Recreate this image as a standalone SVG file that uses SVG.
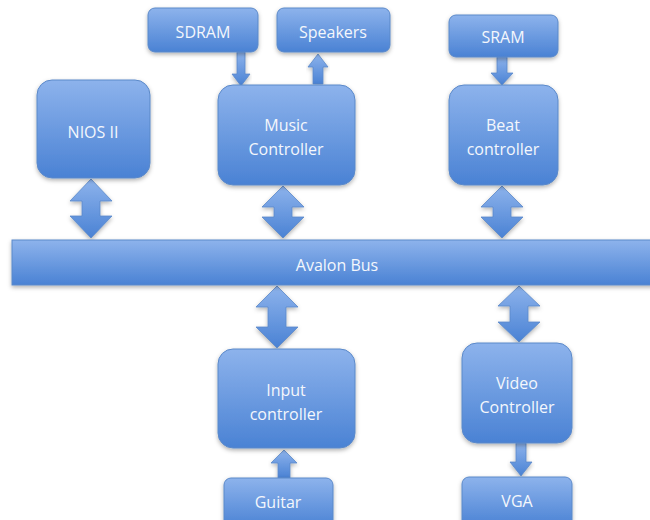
<svg xmlns="http://www.w3.org/2000/svg" width="650" height="520" viewBox="0 0 650 520">
<defs>
<linearGradient id="g" x1="0" y1="0" x2="0" y2="1">
<stop offset="0" stop-color="#8db3ec"/>
<stop offset="1" stop-color="#4a82d4"/>
</linearGradient>
<filter id="sh" x="-10%" y="-10%" width="120%" height="130%">
<feDropShadow dx="0" dy="2" stdDeviation="2" flood-color="#000" flood-opacity="0.3"/>
</filter>
<style>
.box{fill:url(#g);stroke:#5b89c9;stroke-width:1;filter:url(#sh)}
.arr{fill:url(#g);stroke:#5b89c9;stroke-width:0.8;filter:url(#sh)}
text{font-family:"Open Sans","Liberation Sans",sans-serif;font-size:16px;fill:#f4f7fc;text-anchor:middle}
</style>
</defs>
<rect width="650" height="520" fill="#ffffff"/>
<g id="connectors">
<path class="arr" d="M91,179 L112,201 L100,201 L100,216 L112,216 L91,238 L70,216 L82,216 L82,201 L70,201 Z"/>
<path class="arr" d="M283,186 L304,207 L292,207 L292,217 L304,217 L283,238 L262,217 L274,217 L274,207 L262,207 Z"/>
<path class="arr" d="M502,186 L523,207 L511,207 L511,217 L523,217 L502,238 L481,217 L493,217 L493,207 L481,207 Z"/>
<path class="arr" d="M277,286 L298,307 L286,307 L286,327 L298,327 L277,348 L256,327 L268,327 L268,307 L256,307 Z"/>
<path class="arr" d="M519,286 L540,306 L528,306 L528,322 L540,322 L519,342 L498,322 L510,322 L510,306 L498,306 Z"/>
<path class="arr" d="M237,52 L245,52 L245,74 L250,74 L241,86 L232,74 L237,74 Z"/>
<path class="arr" d="M318,54 L328,67 L323,67 L323,84 L313,84 L313,67 L308,67 Z"/>
<path class="arr" d="M497,57 L507,57 L507,73 L513,73 L502,85 L491,73 L497,73 Z"/>
<path class="arr" d="M284,450 L297,463 L290,463 L290,478 L278,478 L278,463 L271,463 Z"/>
<path class="arr" d="M516,443 L526,443 L526,462 L532,462 L521,476 L510,462 L516,462 Z"/>
</g>
<g id="bus">
<rect class="box" x="12" y="240" width="650" height="45"/>
<text x="337" y="271">Avalon Bus</text>
</g>
<g id="sdram">
<rect class="box" x="148" y="8" width="110" height="44" rx="7"/>
<text x="203" y="38">SDRAM</text>
</g>
<g id="speakers">
<rect class="box" x="277" y="8" width="113" height="44" rx="7"/>
<text x="333" y="38">Speakers</text>
</g>
<g id="sram">
<rect class="box" x="449" y="15" width="109" height="42" rx="7"/>
<text x="503" y="43">SRAM</text>
</g>
<g id="nios">
<rect class="box" x="37" y="80" width="113" height="98" rx="15"/>
<text x="93" y="138">NIOS II</text>
</g>
<g id="music">
<rect class="box" x="218" y="85" width="137" height="100" rx="15"/>
<text x="286" y="131">Music</text>
<text x="286" y="155">Controller</text>
</g>
<g id="beat">
<rect class="box" x="449" y="85" width="109" height="100" rx="15"/>
<text x="503" y="131">Beat</text>
<text x="503" y="155">controller</text>
</g>
<g id="input">
<rect class="box" x="218" y="349" width="137" height="99" rx="15"/>
<text x="286" y="396">Input</text>
<text x="286" y="420">controller</text>
</g>
<g id="video">
<rect class="box" x="462" y="343" width="110" height="100" rx="15"/>
<text x="517" y="389">Video</text>
<text x="517" y="413">Controller</text>
</g>
<g id="guitar">
<rect class="box" x="224" y="478" width="109" height="50" rx="7"/>
<text x="278" y="508">Guitar</text>
</g>
<g id="vga">
<rect class="box" x="462" y="477" width="110" height="50" rx="7"/>
<text x="517" y="507">VGA</text>
</g>
</svg>
